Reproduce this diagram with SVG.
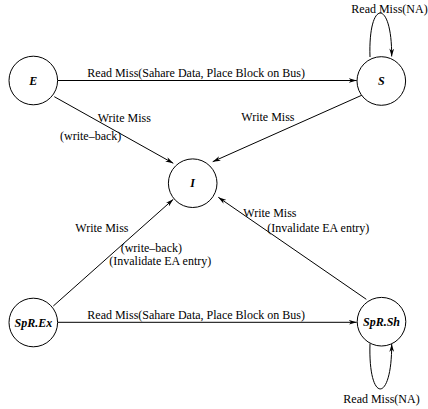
<svg xmlns="http://www.w3.org/2000/svg" width="428" height="409" viewBox="0 0 428 409">
<defs>
<style>
.node{fill:#fff;stroke:#000;stroke-width:1}
.nl{font-family:"Liberation Serif","Times New Roman",serif;font-size:12px;font-weight:bold;font-style:italic;text-anchor:middle}
.el{font-family:"Liberation Serif","Times New Roman",serif;font-size:12px}
.edge{fill:none;stroke:#000;stroke-width:1;marker-end:url(#arr)}
</style>
<marker id="arr" viewBox="0 0 10 6" refX="10" refY="3" markerWidth="8" markerHeight="4.8" markerUnits="userSpaceOnUse" orient="auto">
<path d="M0,0 L10,3 L0,6 L3,3 Z" fill="#000"/>
</marker>
</defs>
<rect width="428" height="409" fill="#fff"/>
<g id="connectors">
<path class="edge" d="M57.7,80.5 L356.7,80.5"/>
<path class="edge" d="M57.7,322.3 L356.7,322.3"/>
<path class="edge" d="M54.3,96.7 L173.3,163.3"/>
<path class="edge" d="M362.3,95 L212.7,161.7"/>
<path class="edge" d="M53.3,306 L173.3,199.3"/>
<path class="edge" d="M366.3,299.3 L218.3,197.3"/>
<path class="edge" d="M370,57 C368,-1.5 392,-1.5 391.7,56.5"/>
<path class="edge" d="M370,343.5 C368,404 392,404 391.7,344"/>
</g>
<g id="labels">
<text class="el" x="87.3" y="76.5">Read Miss(Sahare Data, Place Block on Bus)</text>
<text class="el" x="97.7" y="121.5">Write Miss</text>
<text class="el" x="60" y="139.5">(write–back)</text>
<text class="el" x="241.3" y="120.5">Write Miss</text>
<text class="el" x="351.3" y="12.7">Read Miss(NA)</text>
<text class="el" x="75.3" y="231.5">Write Miss</text>
<text class="el" x="120.7" y="252">(write–back)</text>
<text class="el" x="109.3" y="265.4">(Invalidate EA entry)</text>
<text class="el" x="87.3" y="318.5">Read Miss(Sahare Data, Place Block on Bus)</text>
<text class="el" x="243.3" y="216.5">Write Miss</text>
<text class="el" x="267.3" y="231.5">(Invalidate EA entry)</text>
<text class="el" x="343.3" y="402.7">Read Miss(NA)</text>
</g>
<g id="node-E"><circle class="node" cx="33.3" cy="80.5" r="24.3"/><text class="nl" x="33.3" y="84.5">E</text></g>
<g id="node-S"><circle class="node" cx="381.3" cy="81" r="24.3"/><text class="nl" x="381.3" y="85">S</text></g>
<g id="node-I"><circle class="node" cx="192.7" cy="183.2" r="24.3"/><text class="nl" x="192.7" y="187.2">I</text></g>
<g id="node-SpREx"><circle class="node" cx="33.3" cy="322.5" r="24.3"/><text class="nl" x="33.3" y="326.5">SpR.Ex</text></g>
<g id="node-SpRSh"><circle class="node" cx="381.5" cy="321.7" r="24.3"/><text class="nl" x="381.5" y="325.7">SpR.Sh</text></g>
</svg>
